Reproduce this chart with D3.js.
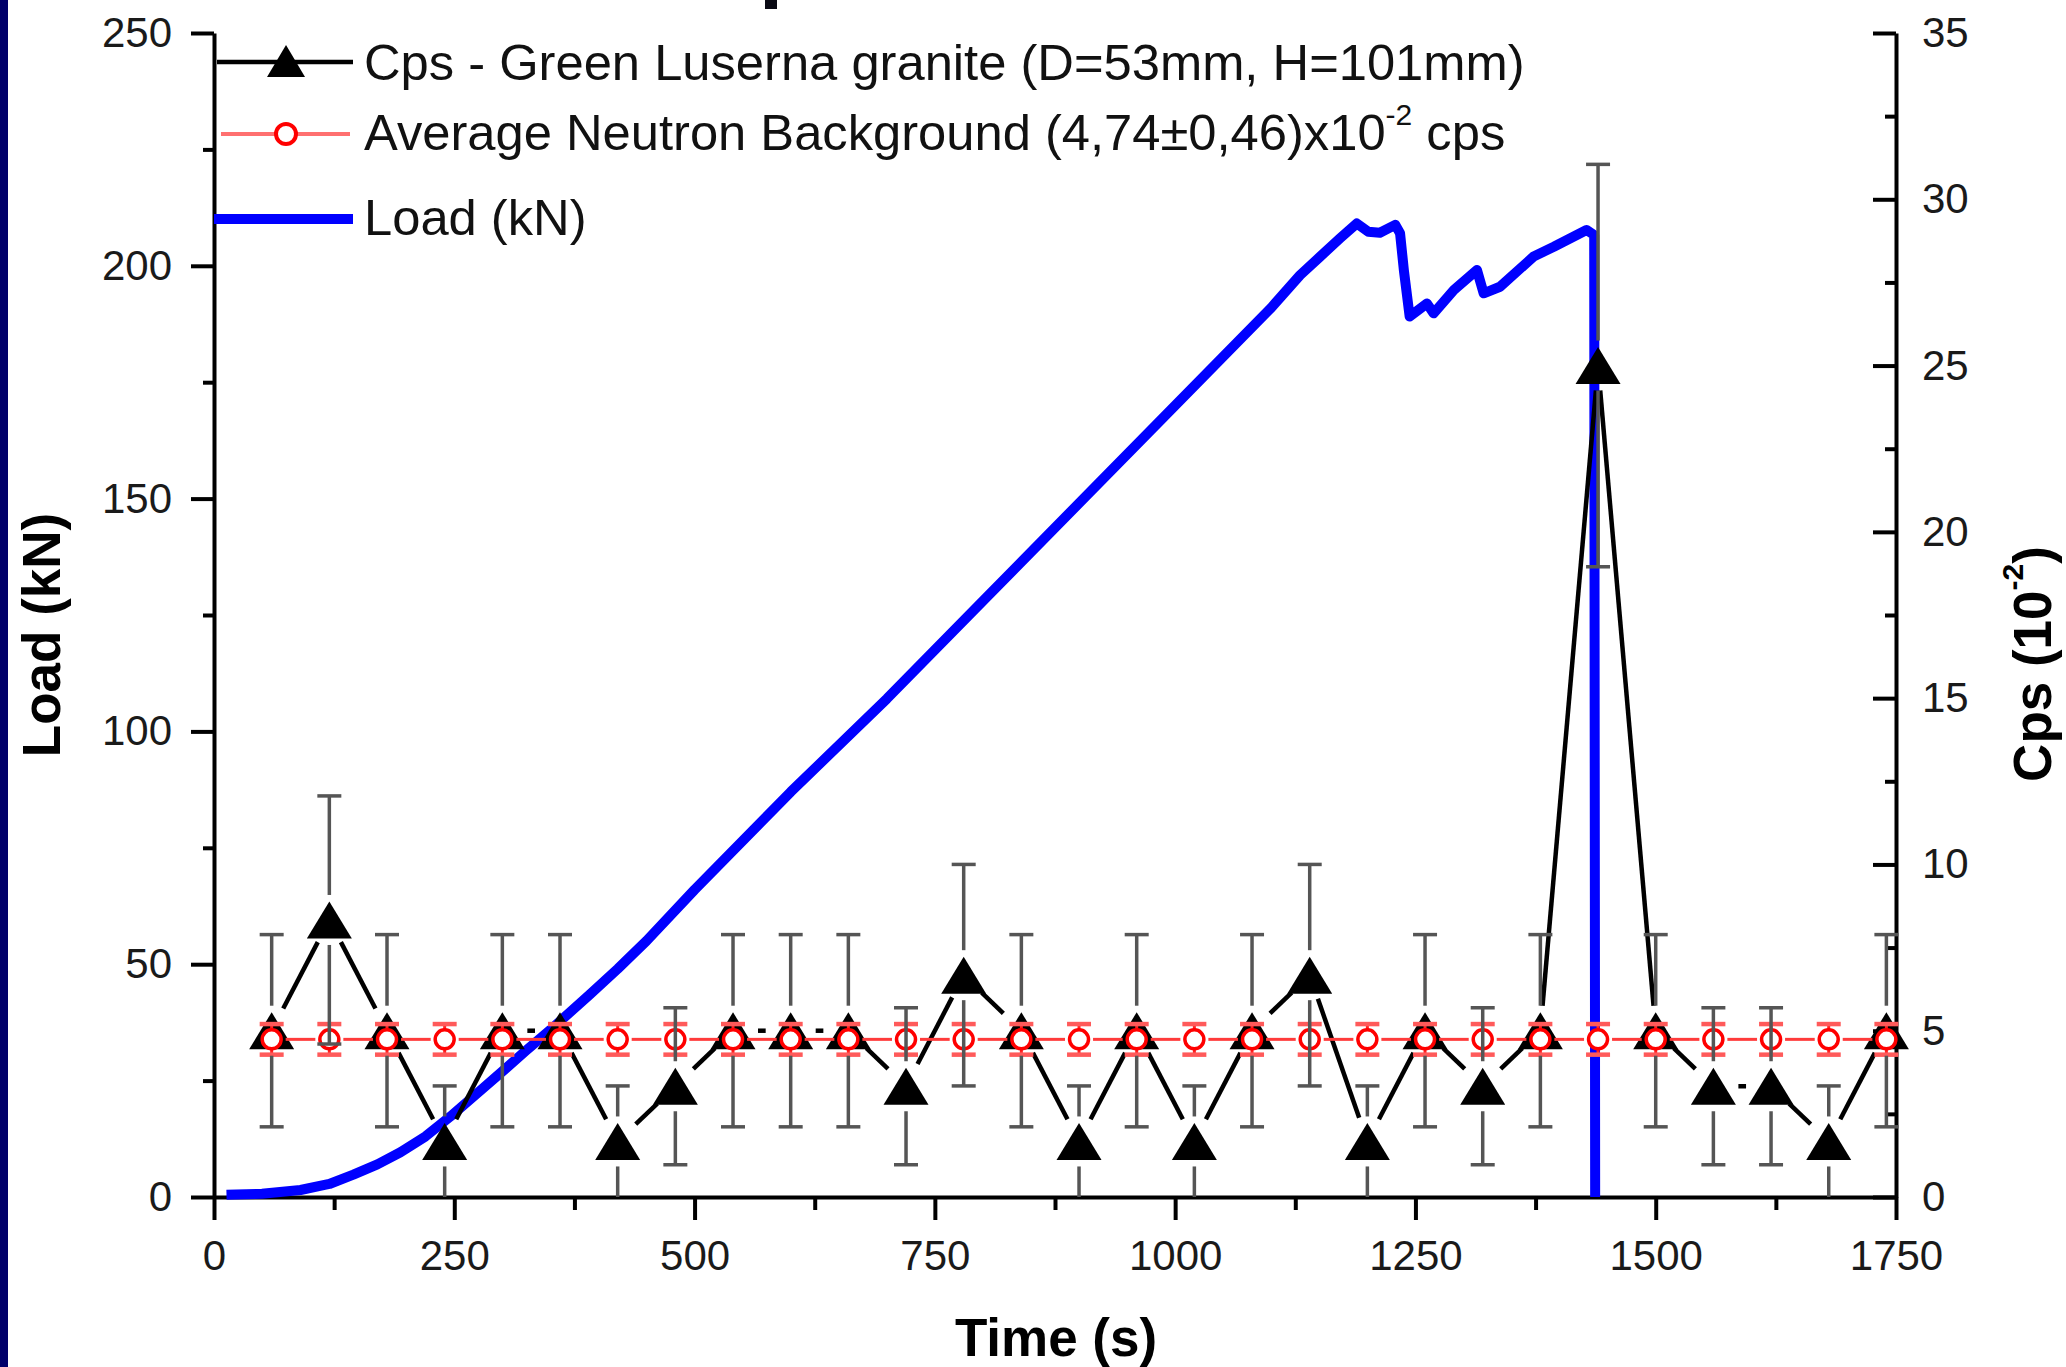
<!DOCTYPE html>
<html><head><meta charset="utf-8">
<script src="https://cdn.jsdelivr.net/npm/d3@7"></script>
<style>body{margin:0;background:#fff;} svg{display:block;}</style>
</head><body><svg id="c" width="2066" height="1367"></svg>
<script>
// ---------- DATA ----------
const cpsTime  = [60,120,180,240,300,360,420,480,540,600,660,720,780,840,900,960,1020,1080,1140,1200,1260,1320,1380,1440,1500,1560,1620,1680,1740];
const cpsValue = [5,8.33,5,1.67,5,5,1.67,3.33,5,5,5,3.33,6.67,5,1.67,5,1.67,5,6.67,1.67,5,3.33,5,25,5,3.33,3.33,1.67,5];
const cpsError = [2.89,3.73,2.89,1.67,2.89,2.89,1.67,2.36,2.89,2.89,2.89,2.36,3.33,2.89,1.67,2.89,1.67,2.89,3.33,1.67,2.89,2.36,2.89,6.05,2.89,2.36,2.36,1.67,2.89];
const bgTime   = [60,120,180,240,300,360,420,480,540,600,660,720,780,840,900,960,1020,1080,1140,1200,1260,1320,1380,1440,1500,1560,1620,1680,1740];
const bgValue  = [4.74,4.74,4.74,4.74,4.74,4.74,4.74,4.74,4.74,4.74,4.74,4.74,4.74,4.74,4.74,4.74,4.74,4.74,4.74,4.74,4.74,4.74,4.74,4.74,4.74,4.74,4.74,4.74,4.74];
const bgError  = [0.46,0.46,0.46,0.46,0.46,0.46,0.46,0.46,0.46,0.46,0.46,0.46,0.46,0.46,0.46,0.46,0.46,0.46,0.46,0.46,0.46,0.46,0.46,0.46,0.46,0.46,0.46,0.46,0.46];
const loadTime = [13,50,90,120,145,170,194,220,246,270,298,325,350,391,420,450,500,600,700,800,900,1000,1100,1130,1151,1172,1189,1201,1213,1229,1234,1238,1244,1262,1269,1290,1314,1321,1338,1373,1394,1428,1436,1437];
const loadKN   = [0.5,0.7,1.5,2.8,4.8,7.0,9.6,13,17.3,21.6,26.6,31.5,35.9,43.5,49,55,66,87,107,128,149,170,191,198,202,206,209.1,207.3,207.1,208.8,207,199,189.1,191.9,189.8,194.8,199.1,194.1,195.5,202,204.1,207.7,206.6,0];
const xTicks = [0,250,500,750,1000,1250,1500,1750];
const xMinor = [125,375,625,875,1125,1375,1625];
const yLTicks = [0,50,100,150,200,250];
const yLMinor = [25,75,125,175,225];
const yRTicks = [0,5,10,15,20,25,30,35];
const yRMinor = [2.5,7.5,12.5,17.5,22.5,27.5,32.5];
const legendLabels = ["Cps - Green Luserna granite (D=53mm, H=101mm)", "Average Neutron Background (4,74\u00B10,46)x10", "Load (kN)"];

// ---------- SETUP ----------
const FONT = "'Liberation Sans', Arial, sans-serif";
const svg = d3.select("#c");
svg.append("rect").attr("width",2066).attr("height",1367).attr("fill","#fff");
svg.append("rect").attr("x",0).attr("y",0).attr("width",8).attr("height",1367).attr("fill","#01006a");
svg.append("rect").attr("x",765).attr("y",0).attr("width",12).attr("height",9).attr("fill","#0a0a14");

const x  = d3.scaleLinear().domain([0,1750]).range([214,1896]);
const yL = d3.scaleLinear().domain([0,250]).range([1197,33]);
const yR = d3.scaleLinear().domain([0,35]).range([1197,33]);
const fmt = d => String(d);

function styleAxis(g, fs){
  g.selectAll("path.domain").attr("stroke","#000").attr("stroke-width",4);
  g.selectAll(".tick line").attr("stroke","#000").attr("stroke-width",4);
  g.selectAll(".tick text").attr("font-family",FONT).attr("font-size",fs).attr("fill","#1a1a1a");
}

// minor ticks
svg.append("g").attr("transform","translate(214,0)")
  .call(d3.axisLeft(yL).tickValues(yLMinor).tickSize(11).tickFormat(""))
  .call(g=>{g.select(".domain").remove(); g.selectAll("line").attr("stroke","#000").attr("stroke-width",4);});
svg.append("g").attr("transform","translate(0,1197)")
  .call(d3.axisBottom(x).tickValues(xMinor).tickSize(13).tickFormat(""))
  .call(g=>{g.select(".domain").remove(); g.selectAll("line").attr("stroke","#000").attr("stroke-width",4);});
svg.append("g").attr("transform","translate(1896,0)")
  .call(d3.axisRight(yR).tickValues(yRMinor).tickSize(-11).tickFormat(""))
  .call(g=>{g.select(".domain").remove(); g.selectAll("line").attr("stroke","#000").attr("stroke-width",4);});

// major axes
svg.append("g").attr("transform","translate(214,0)")
  .call(d3.axisLeft(yL).tickValues(yLTicks).tickFormat(fmt).tickSize(23).tickSizeOuter(0).tickPadding(19))
  .call(g=>styleAxis(g,42));
svg.append("g").attr("transform","translate(0,1197)")
  .call(d3.axisBottom(x).tickValues(xTicks).tickFormat(fmt).tickSize(23).tickSizeOuter(0).tickPadding(20))
  .call(g=>styleAxis(g,42));
svg.append("g").attr("transform","translate(1896,0)")
  .call(d3.axisRight(yR).tickValues(yRTicks).tickFormat(fmt).tickSize(-23).tickSizeOuter(0).tickPadding(26))
  .call(g=>styleAxis(g,42));

// axis titles
svg.append("text").attr("x",1056).attr("y",1356).attr("text-anchor","middle")
  .attr("font-family",FONT).attr("font-weight","bold").attr("font-size",53).text("Time (s)");
svg.append("text").attr("transform","translate(60,635) rotate(-90)").attr("text-anchor","middle")
  .attr("font-family",FONT).attr("font-weight","bold").attr("font-size",53).text("Load (kN)");
const rt = svg.append("text").attr("transform","translate(2051,664) rotate(-90)").attr("text-anchor","middle")
  .attr("font-family",FONT).attr("font-weight","bold").attr("font-size",53);
rt.append("tspan").text("Cps (10");
rt.append("tspan").attr("font-size",30).attr("dy",-28).text("-2");
rt.append("tspan").attr("dy",28).text(")");

// helpers for "gap to symbol"
function gapSeg(x1,y1,x2,y2,r){
  const dx=x2-x1, dy=y2-y1, L=Math.hypot(dx,dy);
  if (L<=2*r) return null;
  const ux=dx/L, uy=dy/L;
  return [x1+ux*r, y1+uy*r, x2-ux*r, y2-uy*r];
}

const plot = svg.append("g");

// ---- Load line (blue) ----
const loadData = loadTime.map((t,i)=>({t, v:loadKN[i]}));
plot.append("path").datum(loadData)
  .attr("d", d3.line().x(d=>x(d.t)).y(d=>yL(d.v)))
  .attr("fill","none").attr("stroke","#0000ff").attr("stroke-width",10)
  .attr("stroke-linejoin","round");

// ---- Cps series ----
const cps = cpsTime.map((t,i)=>({t, v:cpsValue[i], e:cpsError[i], px:x(t), py:yR(cpsValue[i])}));
const GAP = 25;
const cpsSegs = [];
for (let i=0;i<cps.length-1;i++){
  const s = gapSeg(cps[i].px,cps[i].py,cps[i+1].px,cps[i+1].py,GAP);
  if (s) cpsSegs.push(s);
}
plot.append("g").selectAll("line").data(cpsSegs).join("line")
  .attr("x1",d=>d[0]).attr("y1",d=>d[1]).attr("x2",d=>d[2]).attr("y2",d=>d[3])
  .attr("stroke","#000").attr("stroke-width",4.5);
const tri = (cx,cy,w,h)=>`M${cx},${cy-h/2}L${cx+w/2},${cy+h/2}L${cx-w/2},${cy+h/2}Z`;
plot.append("g").selectAll("path").data(cps).join("path")
  .attr("d",d=>tri(d.px,d.py,45,37)).attr("fill","#000");

// ---- Background series (red) ----
const bg = bgTime.map((t,i)=>({t, v:bgValue[i], e:bgError[i], px:x(t), py:yR(bgValue[i])}));
const BGAP = 14;
const bgSegs = [];
for (let i=0;i<bg.length-1;i++){
  const s = gapSeg(bg[i].px,bg[i].py,bg[i+1].px,bg[i+1].py,BGAP);
  if (s) bgSegs.push(s);
}
const bgG = plot.append("g");
bgG.selectAll("line.seg").data(bgSegs).join("line").attr("class","seg")
  .attr("x1",d=>d[0]).attr("y1",d=>d[1]).attr("x2",d=>d[2]).attr("y2",d=>d[3])
  .attr("stroke","#ff3b3b").attr("stroke-width",3);
bgG.selectAll("line.eb").data(bg).join("line").attr("class","eb")
  .attr("x1",d=>d.px).attr("x2",d=>d.px).attr("y1",d=>yR(d.v+d.e)).attr("y2",d=>yR(d.v-d.e))
  .attr("stroke","#ff2020").attr("stroke-width",3);
bgG.selectAll("line.cap").data(bg.flatMap(d=>[{px:d.px,y:yR(d.v+d.e)},{px:d.px,y:yR(d.v-d.e)}])).join("line").attr("class","cap")
  .attr("x1",d=>d.px-12).attr("x2",d=>d.px+12).attr("y1",d=>d.y).attr("y2",d=>d.y)
  .attr("stroke","#ff5a5a").attr("stroke-width",4.5);
bgG.selectAll("circle").data(bg).join("circle")
  .attr("cx",d=>d.px).attr("cy",d=>d.py).attr("r",9.5)
  .attr("fill","#fff").attr("stroke","#ff0000").attr("stroke-width",3.5);

// ---- Cps error bars (grey, with gap around symbol) ----
const ebG = plot.append("g");
const ebSegs = [];
const ebCaps = [];
cps.forEach(d=>{
  const top = yR(d.v+d.e), bot = yR(d.v-d.e);
  if (d.py-GAP > top) ebSegs.push([d.px, top, d.px, d.py-GAP]);
  if (d.py+GAP < bot) ebSegs.push([d.px, d.py+GAP, d.px, bot]);
  ebCaps.push([d.px, top]);
  if (d.v-d.e > 0.05) ebCaps.push([d.px, bot]);
});
ebG.selectAll("line.v").data(ebSegs).join("line").attr("class","v")
  .attr("x1",d=>d[0]).attr("y1",d=>d[1]).attr("x2",d=>d[2]).attr("y2",d=>d[3])
  .attr("stroke","#555").attr("stroke-width",3.5);
ebG.selectAll("line.c").data(ebCaps).join("line").attr("class","c")
  .attr("x1",d=>d[0]-12).attr("x2",d=>d[0]+12).attr("y1",d=>d[1]).attr("y2",d=>d[1])
  .attr("stroke","#555").attr("stroke-width",3.5);

// ---------- LEGEND ----------
const lg = svg.append("g");
const lx0 = 217, lx1 = 353, lsym = 286, ltx = 364;
const rows = [62, 134, 219];
lg.append("line").attr("x1",lx0).attr("x2",lx1).attr("y1",rows[0]).attr("y2",rows[0]).attr("stroke","#000").attr("stroke-width",4.5);
lg.append("path").attr("d",tri(lsym,rows[0]-1,38,32)).attr("fill","#000");
lg.append("line").attr("x1",lx0+4).attr("x2",lx1-3).attr("y1",rows[1]).attr("y2",rows[1]).attr("stroke","#ff7070").attr("stroke-width",4);
lg.append("circle").attr("cx",lsym).attr("cy",rows[1]).attr("r",10).attr("fill","#fff").attr("stroke","#ff0000").attr("stroke-width",4);
lg.append("line").attr("x1",lx0-3).attr("x2",lx1).attr("y1",rows[2]).attr("y2",rows[2]).attr("stroke","#0000ff").attr("stroke-width",10);

const tfs = 50.7;
lg.append("text").attr("x",ltx).attr("y",rows[0]+18).attr("font-family",FONT).attr("font-size",tfs).attr("fill","#111").text(legendLabels[0]);
const t2 = lg.append("text").attr("x",ltx).attr("y",rows[1]+16).attr("font-family",FONT).attr("font-size",tfs).attr("fill","#111");
t2.append("tspan").text(legendLabels[1]);
t2.append("tspan").attr("font-size",30).attr("dy",-25).text("-2");
t2.append("tspan").attr("dy",25).text(" cps");
lg.append("text").attr("x",ltx).attr("y",rows[2]+16).attr("font-family",FONT).attr("font-size",tfs).attr("fill","#111").text(legendLabels[2]);
</script>
</body></html>
